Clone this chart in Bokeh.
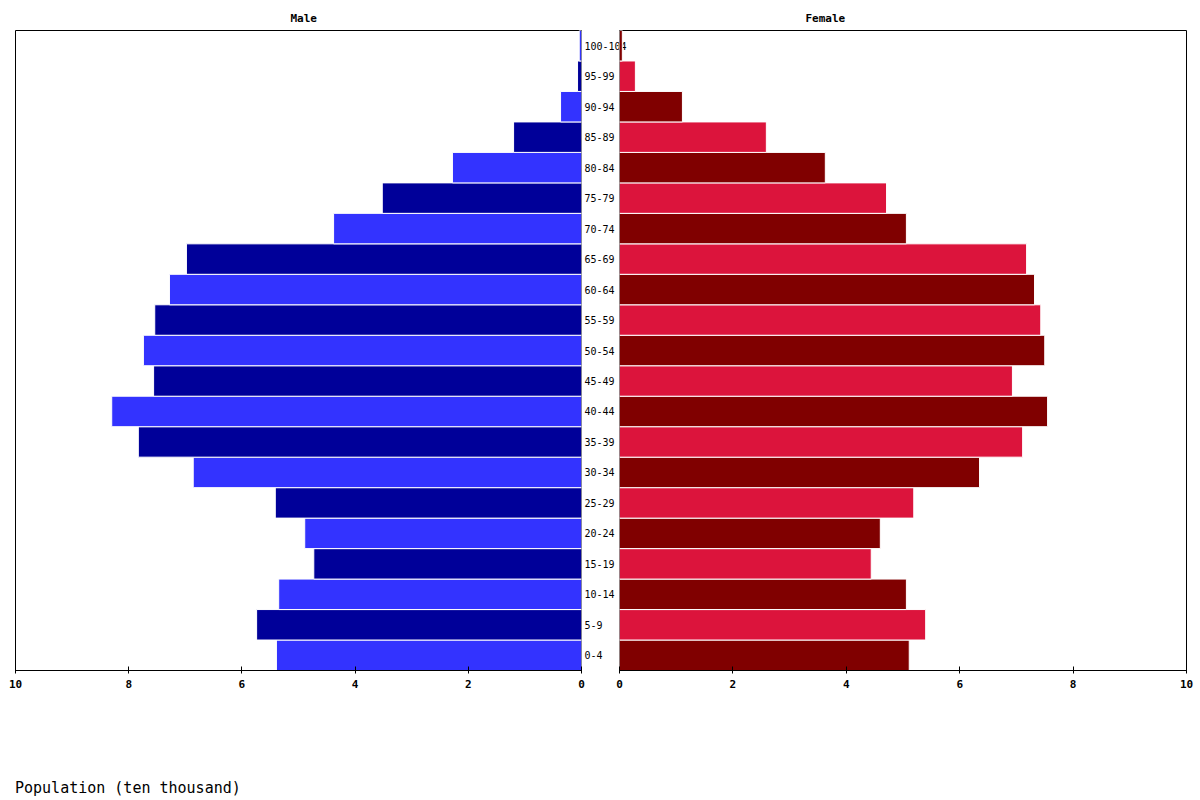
from bokeh.plotting import figure
from bokeh.layouts import row, column
from bokeh.models import Range1d, ColumnDataSource, FixedTicker, LinearAxis, Div
from bokeh.embed import file_html
from bokeh.resources import INLINE

age_groups = ["0-4", "5-9", "10-14", "15-19", "20-24", "25-29", "30-34", "35-39",
              "40-44", "45-49", "50-54", "55-59", "60-64", "65-69", "70-74", "75-79",
              "80-84", "85-89", "90-94", "95-99", "100-104"]
male = [5.39, 5.74, 5.35, 4.73, 4.89, 5.41, 6.86, 7.83, 8.30, 7.56, 7.74, 7.54,
        7.28, 6.98, 4.38, 3.52, 2.28, 1.20, 0.37, 0.07, 0.04]
female = [5.11, 5.40, 5.06, 4.44, 4.60, 5.19, 6.35, 7.11, 7.55, 6.93, 7.50, 7.43,
          7.32, 7.18, 5.06, 4.71, 3.63, 2.59, 1.11, 0.28, 0.05]
ticks = [0, 2, 4, 6, 8, 10]

MALE_COLORS = ["#3333FF", "#000099"]
FEMALE_COLORS = ["#800000", "#DC143C"]

idx = list(range(len(age_groups)))
src = ColumnDataSource(dict(
    y=idx,
    male=male,
    female=female,
    mcolor=[MALE_COLORS[i % 2] for i in idx],
    fcolor=[FEMALE_COLORS[i % 2] for i in idx],
))

MONO = "DejaVu Sans Mono"


def style(p):
    p.outline_line_color = "black"
    p.outline_line_width = 1
    p.xgrid.visible = False
    p.ygrid.visible = False
    ax = p.xaxis[0]
    ax.ticker = FixedTicker(ticks=ticks)
    ax.minor_tick_line_color = None
    ax.major_tick_in = 4
    ax.major_tick_out = 3
    ax.axis_line_color = "black"
    ax.major_tick_line_color = "black"
    ax.major_label_text_font = MONO
    ax.major_label_text_font_style = "bold"
    ax.major_label_text_font_size = "11px"
    ax.major_label_text_color = "black"
    ax.major_label_standoff = 6
    p.title.text_font = MONO
    p.title.text_font_style = "bold"
    p.title.text_font_size = "11px"
    p.title.text_color = "black"
    p.title.align = "left"
    p.title.standoff = 12


ny = len(age_groups)
p1 = figure(width=640, height=770, x_range=Range1d(10, 0), y_range=Range1d(-0.5, ny - 0.5),
            output_backend="svg", toolbar_location=None, y_axis_location=None,
            min_border_left=15, min_border_right=59, min_border_top=30, min_border_bottom=100,
            title="Male")
p1.background_fill_color = "white"
p1.border_fill_color = "white"
p1.hbar(y="y", height=1, left=0, right="male", fill_color="mcolor", line_color="white",
        line_width=1, source=src)
style(p1)
p1.title.offset = 275

age_axis = LinearAxis(ticker=FixedTicker(ticks=idx),
                      major_label_overrides={i: a for i, a in zip(idx, age_groups)})
age_axis.major_tick_in = 0
age_axis.major_tick_out = 0
age_axis.minor_tick_line_color = None
age_axis.axis_line_color = None
age_axis.major_label_standoff = 3
age_axis.major_label_text_font = MONO
age_axis.major_label_text_font_size = "10px"
age_axis.major_label_text_color = "black"
p1.add_layout(age_axis, "right")

p2 = figure(width=600, height=770, x_range=Range1d(0, 10), y_range=Range1d(-0.5, ny - 0.5),
            output_backend="svg", toolbar_location=None, y_axis_location=None,
            min_border_left=19, min_border_right=14, min_border_top=30, min_border_bottom=100,
            title="Female", margin=(0, 0, 0, -40))
p2.background_fill_color = None
p2.border_fill_color = None
p2.hbar(y="y", height=1, left=0, right="female", fill_color="fcolor", line_color="white",
        line_width=1, source=src)
style(p2)
p2.title.offset = 186

caption = Div(text="Population (ten thousand)", width=400, height=30, margin=(0, 0, 0, 15),
              styles={"font-family": MONO, "font-size": "15px", "color": "black",
                      "line-height": "36px"})

layout = column(row(p1, p2), caption)
open("out.html", "w").write(file_html(layout, INLINE))
